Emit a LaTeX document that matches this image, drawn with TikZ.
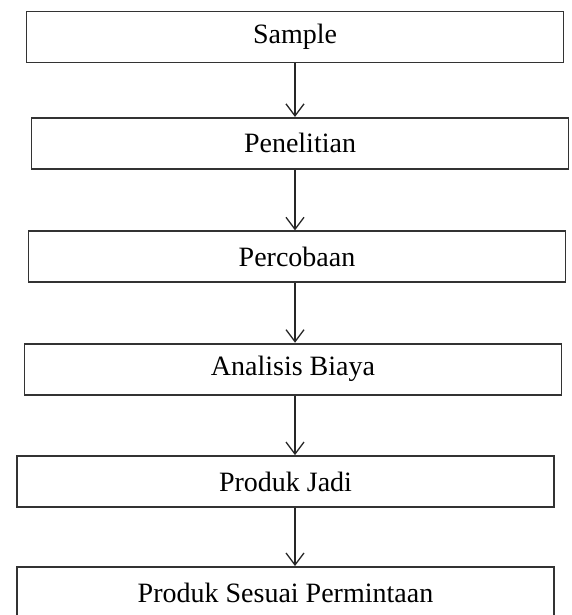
\documentclass[tikz,border=0pt]{standalone}
\usepackage{fontspec}
\setmainfont{Liberation Serif}
\usetikzlibrary{positioning,arrows.meta}

\begin{document}
\begin{tikzpicture}[x=1pt, y=1pt,
    stepbox/.style={draw=black!80, line width=1.9pt, minimum width=537pt, minimum height=51pt, inner sep=0pt, font=\fontsize{28}{34}\selectfont},
    flow/.style={-{Straight Barb[length=12pt,width=18pt]}, line width=1.3pt, draw=black!85}]
    \clip (0,0) rectangle (571,-615);
    \node[stepbox] (sample) at (295,-37) {Sample};
    \node[stepbox, below = 53.5pt of sample, xshift=5pt] (penelitian) {Penelitian};
    \node[stepbox, below = 60.5pt of penelitian, xshift=-3pt] (percobaan) {Percobaan};
    \node[stepbox, below = 59.5pt of percobaan, xshift=-4pt] (analisis) {Analisis Biaya};
    \node[stepbox, below = 59.5pt of analisis, xshift=-7.5pt] (jadi) {Produk Jadi};
    \node[stepbox, below = 58pt of jadi] (sesuai) {Produk Sesuai Permintaan};
    %
    \draw[flow] (sample.south) -- (penelitian.north -| sample);
    \draw[flow] (penelitian.south -| sample) -- (percobaan.north -| sample);
    \draw[flow] (percobaan.south -| sample) -- (analisis.north -| sample);
    \draw[flow] (analisis.south -| sample) -- (jadi.north -| sample);
    \draw[flow] (jadi.south -| sample) -- (sesuai.north -| sample);
\end{tikzpicture}
\end{document}
